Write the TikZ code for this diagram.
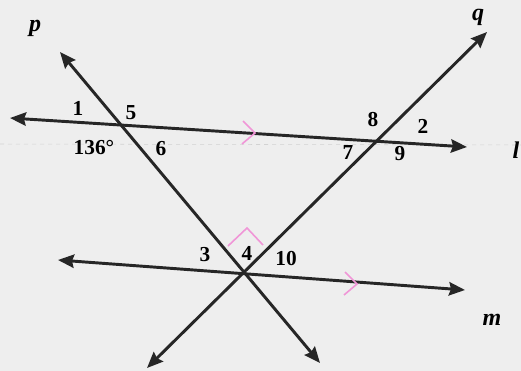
\documentclass[tikz,border=0pt]{standalone}
\usepackage{fontspec}
\setmainfont{Liberation Serif}
\usepackage{tikz}
\usetikzlibrary{arrows.meta, positioning}

\definecolor{paper}{RGB}{238,238,238}
\definecolor{markpink}{RGB}{240,150,215}

\begin{document}
\begin{tikzpicture}[
    x=0.75pt, y=-0.75pt,
    line/.style={{Stealth[length=12pt, width=10pt, inset=1.5pt]}-{Stealth[length=12pt, width=10pt, inset=1.5pt]}, line width=2.2pt, draw=black!85},
    num/.style={font=\bfseries\fontsize{16}{16}\selectfont, inner sep=0pt},
    linename/.style={font=\bfseries\itshape\fontsize{18}{18}\selectfont, inner sep=0pt},
    tick/.style={draw=markpink, line width=1.2pt}
]
\fill[paper] (0,0) rectangle (521,371);
\useasboundingbox (0,0) rectangle (521,371);
\draw[gray!35, dashed, line width=0.4pt] (0,144) -- (521,145);

% end points of the four lines
\coordinate (lA) at (10,118);
\coordinate (lB) at (467,147);
\coordinate (mA) at (58,260);
\coordinate (mB) at (465,290);
\coordinate (pA) at (60,52);
\coordinate (pB) at (320,363);
\coordinate (qA) at (147,368);
\coordinate (qB) at (487,32);

\draw[line] (lA) -- (lB);
\draw[line] (mA) -- (mB);
\draw[line] (pA) -- (pB);
\draw[line] (qA) -- (qB);

% parallel marks and right angle
\coordinate (tl) at (255,133);
\draw[tick] ([shift={(-12,-12)}]tl) -- (tl) -- ([shift={(-13,11)}]tl);
\coordinate (tm) at (357,284);
\draw[tick] ([shift={(-12,-12)}]tm) -- (tm) -- ([shift={(-13,11)}]tm);
\coordinate (ra) at (247,228);
\draw[tick] (228,246) -- (ra) -- (263,245);

% line names
\node[linename] (np) at (35,28) {p};
\node[linename] (nq) at (478,17) {q};
\node[linename] (nl) at (516,150) {l};
\node[linename] (nm) at (492,320) {m};

% angle numbers
\node[num] (a1) at (78,108) {1};
\node[num] (a5) at (131,113) {5};
\node[num] (a136) at (94,148) {136°};
\node[num] (a6) at (161,149) {6};
\node[num] (a8) at (373,120) {8};
\node[num] (a2) at (423,126) {2};
\node[num] (a7) at (348,153) {7};
\node[num] (a9) at (400,154) {9};
\node[num] (a3) at (205,255) {3};
\node[num] (a4) at (247,253) {4};
\node[num] (a10) at (286,259) {10};
\end{tikzpicture}
\end{document}
